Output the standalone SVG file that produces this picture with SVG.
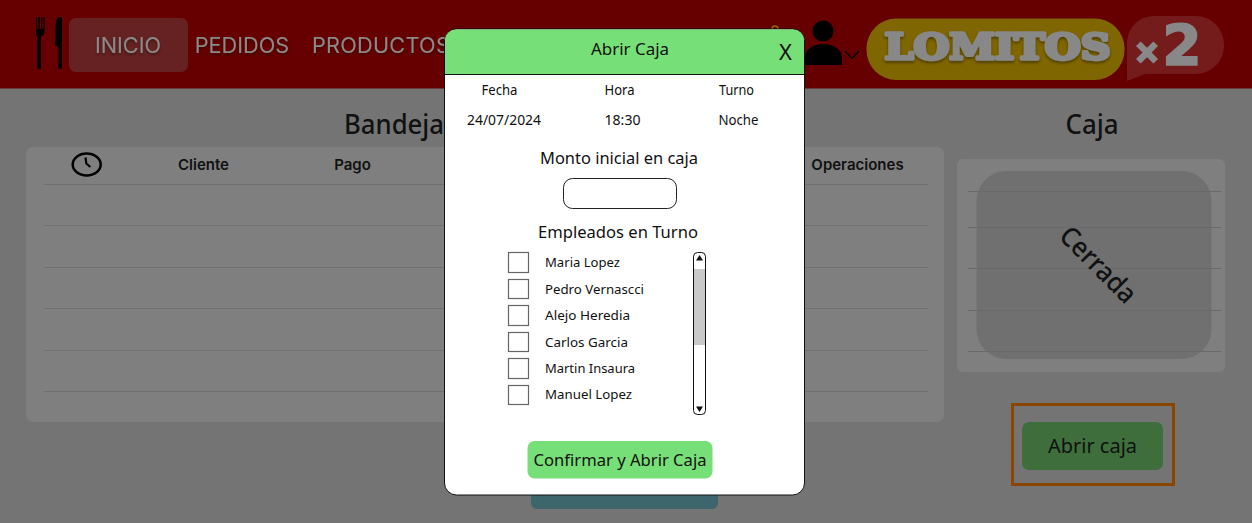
<svg xmlns="http://www.w3.org/2000/svg" width="1252" height="523" viewBox="0 0 1252 523">
<defs>
<style>
.n{font-family:"Noto Sans","Open Sans",sans-serif;fill:#111}
.i{font-family:Inter,"Noto Sans",sans-serif}
.nav{font-size:21.7px;fill:#8a8a8a;text-anchor:middle}
.th{font-size:15px;font-weight:600;fill:#111;text-anchor:middle}
.rule{stroke:#6f6f6f;stroke-width:1}
.sm{font-size:13.500px;text-anchor:middle}
.emp{font-size:13.300px}
.lg{font-size:16.500px;text-anchor:middle}
.cb{fill:#fff;stroke:#666;stroke-width:1.2}
</style>
<filter id="sh" x="-10%" y="-20%" width="120%" height="150%"><feDropShadow dx="0" dy="2" stdDeviation="1.500" flood-color="#000" flood-opacity=".4"/></filter>
</defs>
<rect width="1252" height="523" fill="#747474"/>
<g id="header">
<rect width="1252" height="88.500" fill="#660000"/>
<g id="logo-cutlery" fill="#000">
<path d="M36 17h1.200v12h1.300V17h1.200v12h1.300V17h1.200v12h1.300V17H44.700v14c0 3-2 5-3.800 5.500V69h-3.600V36.500C35.500 36 36 33 36 30z"/>
<path d="M58 17.500c2-1 4-.5 4 .5v51h-3.600V47l-3-1.500V30c0-6 1-11 2.600-12.500z"/>
</g>
<rect x="69" y="18" width="119" height="54" rx="7" fill="#662222"/>
<g class="i nav" filter="url(#sh)">
<text x="128" y="53">INICIO</text>
<text x="242" y="53">PEDIDOS</text>
<text x="381" y="53" style="letter-spacing:.25px">PRODUCTOS</text>
</g>
<g id="user-icon">
<circle cx="823" cy="31" r="10.500" fill="#000"/>
<path d="M805 65V58c0-9 8-14 18-14s19 5 19 14v7z" fill="#000"/>
<path d="M845 51l7 7.500 7-7.500" fill="none" stroke="#000" stroke-width="1.500"/>
<circle cx="775" cy="29" r="3" fill="none" stroke="#8a7000" stroke-width="1.500"/>
</g>
<g id="brand">
<rect x="866.500" y="18.500" width="258" height="61.500" rx="30" fill="#806600"/>
<text x="997.500" y="59" text-anchor="middle" font-family="'DejaVu Serif',serif" font-weight="700" font-size="36" fill="#888" stroke="#888" stroke-width="3.500" stroke-linejoin="round" filter="url(#sh)" textLength="226" lengthAdjust="spacingAndGlyphs">LOMITOS</text>
<path d="M1127 81V45c0-18 12-29 28-29h40c17 0 29 13 29 29s-12 29-29 29h-50z" fill="#741c1c"/>
<text x="1147" y="62" text-anchor="middle" font-family="'DejaVu Sans',sans-serif" font-weight="700" font-size="30" fill="#888" stroke="#888" stroke-width="3">×</text>
<text x="1182" y="64" text-anchor="middle" font-family="'DejaVu Sans',sans-serif" font-weight="700" font-size="56" fill="#888" stroke="#888" stroke-width="2">2</text>
</g>
</g>
<g id="bandeja">
<text class="n" x="394" y="134" font-size="27" font-weight="500" fill="#000" text-anchor="middle" textLength="100" lengthAdjust="spacingAndGlyphs">Bandeja</text>
<rect x="26" y="147" width="918" height="275" rx="7" fill="#7f7f7f"/>
<g id="clock"><ellipse cx="86.700" cy="164.500" rx="14" ry="11" fill="none" stroke="#000" stroke-width="2.500"/><path d="M85.500 157.500l.8 6 4 3.500" fill="none" stroke="#000" stroke-width="2.200"/></g>
<text class="i th" x="203.500" y="170">Cliente</text>
<text class="i th" x="352.500" y="170">Pago</text>
<text class="i th" x="857.500" y="170">Operaciones</text>
<g class="rule">
<line x1="44" x2="928" y1="184.500" y2="184.500"/><line x1="44" x2="928" y1="225.500" y2="225.500"/><line x1="44" x2="928" y1="267.500" y2="267.500"/><line x1="44" x2="928" y1="308.500" y2="308.500"/><line x1="44" x2="928" y1="350.500" y2="350.500"/><line x1="44" x2="928" y1="391.500" y2="391.500"/>
</g>
</g>
<rect id="teal-button" x="531" y="480" width="187" height="29" rx="6" fill="#3c666c"/>
<g id="caja">
<text class="n" x="1092" y="134" font-size="27" font-weight="500" text-anchor="middle" textLength="53" lengthAdjust="spacingAndGlyphs">Caja</text>
<rect x="957" y="159" width="268" height="213" rx="6" fill="#7f7f7f"/>
<rect x="976.500" y="171" width="235" height="188" rx="30" fill="#707070"/>
<g stroke="#696969" stroke-width="1">
<line x1="968" x2="1221" y1="191.500" y2="191.500"/><line x1="968" x2="1221" y1="227.500" y2="227.500"/><line x1="968" x2="1221" y1="268.500" y2="268.500"/><line x1="968" x2="1221" y1="310.500" y2="310.500"/><line x1="968" x2="1221" y1="351.500" y2="351.500"/>
</g>
<text class="n" x="1098" y="274" font-size="27" font-weight="500" text-anchor="middle" transform="rotate(45 1098 265)" fill="#000" textLength="96" lengthAdjust="spacingAndGlyphs">Cerrada</text>
</g>
<g id="abrir-caja">
<rect x="1012.500" y="404.500" width="161" height="80" fill="none" stroke="#8a4500" stroke-width="3"/>
<rect x="1022" y="422" width="141" height="48" rx="7" fill="#3e6e3c"/>
<text class="n" x="1092.500" y="453" font-size="19" text-anchor="middle" textLength="89" lengthAdjust="spacingAndGlyphs">Abrir caja</text>
</g>
<g id="modal">
<rect x="444.500" y="29" width="360" height="466" rx="12" fill="#fff" stroke="#111" stroke-width="1"/>
<path d="M445 74.500V41c0-6.500 5-11.500 11-11.500h337c6.500 0 11 5 11 11.500v33.500z" fill="#77df77"/>
<line x1="445" x2="804" y1="74.500" y2="74.500" stroke="#111" stroke-width="1"/>
<text class="n" x="630" y="55" font-size="16.500" text-anchor="middle" textLength="78" lengthAdjust="spacingAndGlyphs">Abrir Caja</text>
<text class="n" x="785.500" y="60" font-size="22" text-anchor="middle">X</text>
<text class="n sm" x="499.500" y="95" textLength="36" lengthAdjust="spacingAndGlyphs">Fecha</text>
<text class="n sm" x="619.500" y="95" textLength="30" lengthAdjust="spacingAndGlyphs">Hora</text>
<text class="n sm" x="736.500" y="95" textLength="35" lengthAdjust="spacingAndGlyphs">Turno</text>
<text class="n sm" x="504" y="124.500" textLength="74" lengthAdjust="spacingAndGlyphs">24/07/2024</text>
<text class="n sm" x="622.500" y="124.500" textLength="36" lengthAdjust="spacingAndGlyphs">18:30</text>
<text class="n sm" x="738.500" y="124.500" textLength="40" lengthAdjust="spacingAndGlyphs">Noche</text>
<text class="n lg" x="619" y="164" textLength="158" lengthAdjust="spacingAndGlyphs">Monto inicial en caja</text>
<rect x="563.500" y="178.500" width="113" height="30" rx="9" fill="#fff" stroke="#222" stroke-width="1"/>
<text class="n lg" x="618" y="238" textLength="160" lengthAdjust="spacingAndGlyphs">Empleados en Turno</text>
<g id="empleados">
<rect class="cb" x="508.500" y="252.500" width="20" height="20"/><text class="n emp" x="545" y="267" textLength="75" lengthAdjust="spacingAndGlyphs">Maria Lopez</text>
<rect class="cb" x="508.500" y="279.500" width="20" height="19"/><text class="n emp" x="545" y="293.500" textLength="99" lengthAdjust="spacingAndGlyphs">Pedro Vernascci</text>
<rect class="cb" x="508.500" y="305.500" width="20" height="20"/><text class="n emp" x="545" y="320" textLength="85" lengthAdjust="spacingAndGlyphs">Alejo Heredia</text>
<rect class="cb" x="508.500" y="332.500" width="20" height="19"/><text class="n emp" x="545" y="346.500" textLength="83" lengthAdjust="spacingAndGlyphs">Carlos Garcia</text>
<rect class="cb" x="508.500" y="358.500" width="20" height="20"/><text class="n emp" x="545" y="373" textLength="90" lengthAdjust="spacingAndGlyphs">Martin Insaura</text>
<rect class="cb" x="508.500" y="385.500" width="20" height="19"/><text class="n emp" x="545" y="399" textLength="87" lengthAdjust="spacingAndGlyphs">Manuel Lopez</text>
</g>
<g id="scrollbar">
<rect x="693.500" y="252.500" width="12" height="162" rx="4" fill="#fff"/>
<rect x="694" y="269" width="11" height="76" fill="#c9c9c9"/>
<rect x="693.500" y="252.500" width="12" height="162" rx="4" fill="none" stroke="#111" stroke-width="1"/>
<path d="M699.500 255l3.500 5.500h-7z M699.500 412l-3.500-5.500h7z" fill="#111"/>
</g>
<rect x="527.500" y="441" width="185" height="37.500" rx="7" fill="#77df77"/>
<text class="n" x="620" y="466" font-size="16.500" text-anchor="middle" textLength="173" lengthAdjust="spacingAndGlyphs">Confirmar y Abrir Caja</text>
</g>
</svg>
